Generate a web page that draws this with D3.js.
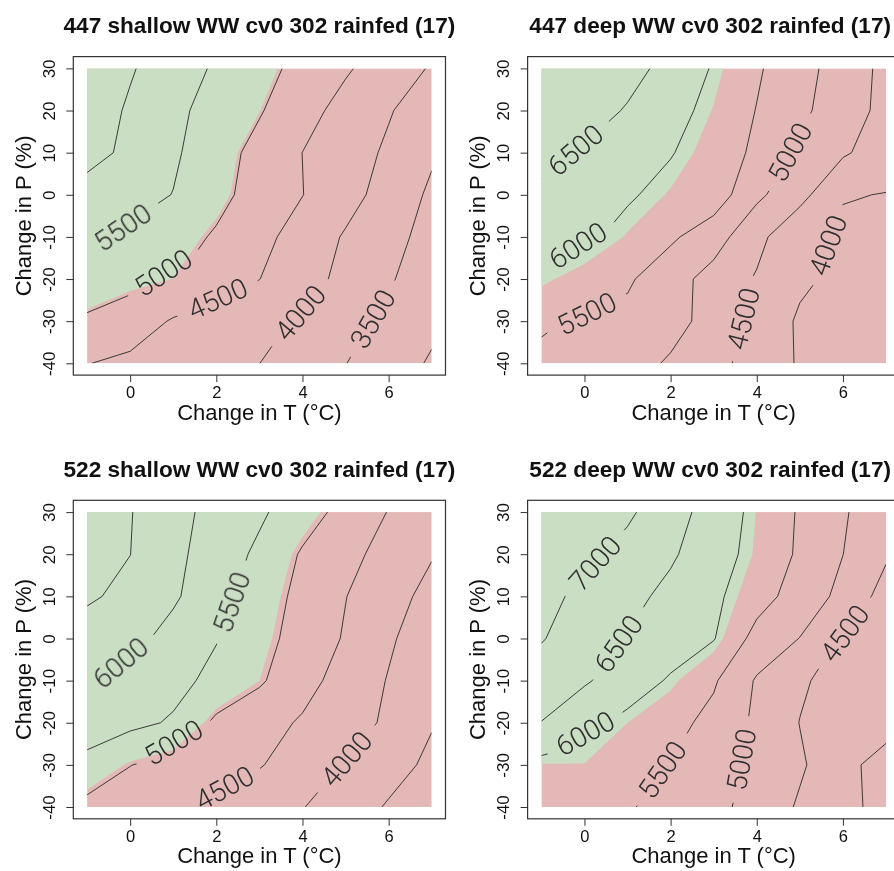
<!DOCTYPE html>
<html>
<head>
<meta charset="utf-8">
<script src="https://cdn.jsdelivr.net/npm/d3@7"></script>
<style>
  body { margin: 0; background: #ffffff; }
  svg { display: block; font-family: "Liberation Sans", Arial, sans-serif; }
</style>
</head>
<body>
<svg id="chart" width="894" height="871"></svg>
<script>
// ---------------- DATA ----------------
const tempChange = [-1, 0, 1, 2, 3, 4, 5, 6, 7];            // columns (°C)
const precipChange = [30, 20, 10, 0, -10, -20, -30, -40];    // rows (%)
const xTicks = [0, 2, 4, 6];
const yTicks = [-40, -30, -20, -10, 0, 10, 20, 30];
const contourLevels = [3000, 3500, 4000, 4500, 5000, 5500, 6000, 6500, 7000, 7500];

const panelTitles = [
  "447 shallow WW cv0 302 rainfed (17)",
  "447 deep WW cv0 302 rainfed (17)",
  "522 shallow WW cv0 302 rainfed (17)",
  "522 deep WW cv0 302 rainfed (17)"
];

// yield grids: rows follow precipChange, columns follow tempChange
const yield447Shallow = [
  [6348, 6043, 5738, 5438, 5155, 4862, 4555, 4256, 3958],
  [6263, 5938, 5614, 5318, 5039, 4674, 4337, 4036, 3736],
  [6188, 5880, 5571, 5211, 4846, 4497, 4223, 3927, 3560],
  [5790, 5680, 5489, 5135, 4812, 4509, 4179, 3803, 3420],
  [5610, 5402, 5183, 4950, 4640, 4302, 3953, 3663, 3330],
  [5289, 5128, 5026, 4766, 4506, 4190, 3873, 3554, 3210],
  [4927, 4786, 4450, 4298, 4132, 3944, 3667, 3380, 3100],
  [4514, 4386, 4258, 4130, 4003, 3755, 3510, 3218, 2950]
];
const yield447Deep = [
  [6950, 6880, 6688, 6326, 5960, 5560, 5176, 4780, 4375],
  [6870, 6739, 6455, 6170, 5853, 5485, 5106, 4733, 4363],
  [6643, 6439, 6234, 6029, 5731, 5420, 4913, 4563, 4250],
  [6408, 6286, 6059, 5840, 5780, 5100, 4660, 4030, 3985],
  [6200, 6105, 5843, 5581, 5210, 4642, 4100, 3900, 3860],
  [5930, 5740, 5567, 5194, 4824, 4456, 4091, 3870, 3820],
  [5580, 5420, 5370, 5202, 4789, 4368, 3930, 3880, 3830],
  [5370, 5290, 5226, 4932, 4638, 4316, 3950, 3900, 3850]
];
const yield522Shallow = [
  [6887, 6522, 6157, 5847, 5578, 5220, 4842, 4482, 4122],
  [6820, 6504, 6120, 5770, 5403, 4948, 4641, 4333, 4030],
  [6560, 6389, 6070, 5675, 5256, 4863, 4511, 4183, 3856],
  [6300, 6151, 5836, 5522, 5165, 4811, 4456, 4060, 3740],
  [6075, 5855, 5636, 5379, 5061, 4680, 4297, 3975, 3650],
  [5754, 5620, 5450, 4900, 4689, 4446, 4188, 3930, 3530],
  [5359, 5010, 4848, 4690, 4532, 4263, 3969, 3685, 3400],
  [4855, 4745, 4564, 4382, 4200, 4018, 3743, 3455, 3166]
];
const yield522Deep = [
  [7470, 7400, 7080, 6700, 6296, 5867, 5452, 5056, 4656],
  [7400, 7123, 6844, 6564, 6217, 5836, 5432, 5004, 4560],
  [7137, 6888, 6639, 6377, 6098, 5699, 5287, 4871, 4310],
  [7030, 6749, 6475, 6250, 6025, 5330, 4990, 4438, 4250],
  [6771, 6554, 6256, 5946, 5558, 4950, 4569, 4300, 4280],
  [6490, 6150, 5874, 5654, 5361, 4907, 4490, 4280, 4227],
  [5860, 5865, 5776, 5489, 5201, 4899, 4564, 4171, 3764],
  [5780, 5750, 5542, 5333, 5125, 4833, 4440, 4139, 3840]
];

// yield separating the green (above) and red (below) areas
const fillThresholds = [5030, 5870, 5060, 5875];

// contour labels: [level, T, P] (approximate label centre)
const labels447Shallow = [[5500, -0.16, -8.4], [5000, 0.85, -18.3], [4500, 2.02, -24.6], [4000, 3.95, -28.1], [3500, 5.64, -29.5]];
const labels447Deep = [[6500, -0.18, 10.2], [6000, -0.14, -11.9], [5500, -0.02, -26.6], [5000, 4.78, 10.1], [4500, 3.64, -29.3], [4000, 5.58, -11.5]];
const labels522Shallow = [[6000, -0.19, -6.3], [5500, 2.33, 8.7], [5000, 0.93, -24.5], [4500, 2.09, -35.3], [4000, 5.04, -28.8]];
const labels522Deep = [[7000, 0.25, 17.8], [6500, 0.79, -1.2], [6000, -0.06, -22.5], [5500, 1.87, -31.6], [5000, 3.68, -28.8], [4500, 6.04, 1.2]];

const panels = [
  { title: panelTitles[0], grid: yield447Shallow, threshold: fillThresholds[0], labels: labels447Shallow },
  { title: panelTitles[1], grid: yield447Deep, threshold: fillThresholds[1], labels: labels447Deep },
  { title: panelTitles[2], grid: yield522Shallow, threshold: fillThresholds[2], labels: labels522Shallow },
  { title: panelTitles[3], grid: yield522Deep, threshold: fillThresholds[3], labels: labels522Deep }
];

// ---------------- STYLE / LAYOUT ----------------
const GREEN = "#c9dec3";
const RED = "#e3b8b7";
const LINE = "#2a2a2a";
const offsets = [[0, 0], [454.3, 0], [0, 443.7], [454.3, 443.7]];
const titleShift = [0, -3.5, 0, -3.5];
const x = d3.scaleLinear().domain([-1.32, 7.32]).range([73.3, 445.5]);
const y = d3.scaleLinear().domain([-42.8, 32.8]).range([375.1, 56.6]);

const svg = d3.select("#chart");
const defs = svg.append("defs");
defs.append("filter").attr("id", "thin").attr("x", "-20%").attr("y", "-20%").attr("width", "140%").attr("height", "140%")
  .append("feMorphology").attr("operator", "erode").attr("radius", 0.45);

// marching squares -> open/closed polylines in data coordinates
function isolines(grid, level) {
  const nr = grid.length, nc = grid[0].length;
  const pts = new Map(), adj = new Map();
  function pt(key, r1, c1, r2, c2) {
    if (!pts.has(key)) {
      const v1 = grid[r1][c1], v2 = grid[r2][c2];
      const t = (level - v1) / (v2 - v1);
      pts.set(key, [tempChange[c1] + t * (tempChange[c2] - tempChange[c1]),
                    precipChange[r1] + t * (precipChange[r2] - precipChange[r1])]);
    }
    return key;
  }
  function link(a, b) {
    if (!adj.has(a)) adj.set(a, []);
    if (!adj.has(b)) adj.set(b, []);
    adj.get(a).push(b); adj.get(b).push(a);
  }
  const hi = v => v >= level;
  for (let r = 0; r < nr - 1; r++) {
    for (let c = 0; c < nc - 1; c++) {
      const a = grid[r][c], b = grid[r][c + 1], d = grid[r + 1][c + 1], e = grid[r + 1][c];
      const cross = {};
      if (hi(a) !== hi(b)) cross.top = pt("h" + r + "," + c, r, c, r, c + 1);
      if (hi(b) !== hi(d)) cross.right = pt("v" + r + "," + (c + 1), r, c + 1, r + 1, c + 1);
      if (hi(e) !== hi(d)) cross.bottom = pt("h" + (r + 1) + "," + c, r + 1, c, r + 1, c + 1);
      if (hi(a) !== hi(e)) cross.left = pt("v" + r + "," + c, r, c, r + 1, c);
      const ks = Object.keys(cross);
      if (ks.length === 2) link(cross[ks[0]], cross[ks[1]]);
      else if (ks.length === 4) {
        const center = (a + b + d + e) / 4;
        if (hi(center) === hi(a)) { link(cross.top, cross.right); link(cross.bottom, cross.left); }
        else { link(cross.left, cross.top); link(cross.right, cross.bottom); }
      }
    }
  }
  const used = new Set(), lines = [];
  function walk(start) {
    const line = [start]; used.add(start);
    let cur = start;
    while (true) {
      const nb = (adj.get(cur) || []).filter(k => !used.has(k));
      if (!nb.length) break;
      cur = nb[0]; used.add(cur); line.push(cur);
    }
    return line;
  }
  for (const [k, v] of adj) if (v.length === 1 && !used.has(k)) lines.push(walk(k));
  for (const [k] of adj) if (!used.has(k)) { const l = walk(k); l.push(l[0]); lines.push(l); }
  return lines.map(l => l.map(k => pts.get(k)));
}

function cum(p) { const s = [0]; for (let i = 1; i < p.length; i++) s.push(s[i - 1] + Math.hypot(p[i][0] - p[i - 1][0], p[i][1] - p[i - 1][1])); return s; }
function pointAt(p, s, d) {
  if (d <= 0) return p[0];
  if (d >= s[s.length - 1]) return p[p.length - 1];
  let i = 0; while (s[i + 1] < d) i++;
  const t = (d - s[i]) / (s[i + 1] - s[i] || 1);
  return [p[i][0] + t * (p[i + 1][0] - p[i][0]), p[i][1] + t * (p[i + 1][1] - p[i][1])];
}
function slicePoly(p, s, d0, d1) {
  const out = [pointAt(p, s, d0)];
  for (let i = 0; i < p.length; i++) if (s[i] > d0 && s[i] < d1) out.push(p[i]);
  out.push(pointAt(p, s, d1));
  return out;
}

const lineGen = d3.line();
const fmt = d => String(d);

panels.forEach((p, pi) => {
  const g = svg.append("g").attr("transform", `translate(${offsets[pi][0]},${offsets[pi][1]})`);
  const clipId = "clip" + pi;
  g.append("clipPath").attr("id", clipId).append("rect")
    .attr("x", x(-1)).attr("y", y(30)).attr("width", x(7) - x(-1)).attr("height", y(-40) - y(30));
  const plot = g.append("g").attr("clip-path", `url(#${clipId})`);

  // red background (below threshold)
  plot.append("rect").attr("x", x(-1)).attr("y", y(30))
    .attr("width", x(7) - x(-1)).attr("height", y(-40) - y(30)).attr("fill", RED);

  // green area (at or above threshold)
  const nr = p.grid.length, nc = p.grid[0].length;
  const cont = d3.contours().size([nc, nr]).thresholds([p.threshold])(p.grid.flat())[0];
  const gxT = gx => tempChange[0] + (gx - 0.5) * (tempChange[1] - tempChange[0]);
  const gyP = gy => precipChange[0] + (gy - 0.5) * (precipChange[1] - precipChange[0]);
  let dstr = "";
  cont.coordinates.forEach(poly => poly.forEach(ring => {
    dstr += "M" + ring.map(([a, b]) => x(gxT(a)).toFixed(2) + "," + y(gyP(b)).toFixed(2)).join("L") + "Z";
  }));
  plot.append("path").attr("d", dstr).attr("fill", GREEN).attr("fill-rule", "evenodd");

  // contour lines with labels
  const lineG = plot.append("g");
  const labelG = g.append("g").attr("filter", "url(#thin)");
  contourLevels.forEach(level => {
    const polys = isolines(p.grid, level).map(l => l.map(([T, P]) => [x(T), y(P)]));
    const cuts = polys.map(() => []);
    const s = polys.map(cum);
    p.labels.filter(L => L[0] === level).forEach(L => {
      const ax = x(L[1]), ay = y(L[2]);
      let best = null;
      polys.forEach((pl, li) => {
        for (let i = 0; i < pl.length - 1; i++) {
          const [x1, y1] = pl[i], [x2, y2] = pl[i + 1];
          const dx = x2 - x1, dy = y2 - y1, len2 = dx * dx + dy * dy || 1;
          let t = ((ax - x1) * dx + (ay - y1) * dy) / len2; t = Math.max(0, Math.min(1, t));
          const px = x1 + t * dx, py = y1 + t * dy, dist = Math.hypot(ax - px, ay - py);
          if (!best || dist < best.dist) best = { dist, li, d: s[li][i] + t * Math.sqrt(len2) };
        }
      });
      if (!best) return;
      const txt = labelG.append("text").text(String(level))
        .attr("font-family", "Roboto, 'Liberation Sans', sans-serif")
        .attr("font-weight", 300).attr("font-size", 28).attr("fill", "#2e2e2e")
        .attr("text-anchor", "middle").attr("dy", "0.36em");
      const h = txt.node().getComputedTextLength() / 2 + 13;
      const pl = polys[best.li], sl = s[best.li];
      const A = pointAt(pl, sl, best.d - h), B = pointAt(pl, sl, best.d + h);
      let ang = Math.atan2(B[1] - A[1], B[0] - A[0]) * 180 / Math.PI;
      if (ang >= 90) ang -= 180;
      if (ang < -90) ang += 180;
      const cx = (A[0] + B[0]) / 2, cy = (A[1] + B[1]) / 2;
      txt.attr("transform", `translate(${cx},${cy}) rotate(${ang})`);
      cuts[best.li].push([best.d - h, best.d + h]);
    });
    polys.forEach((pl, li) => {
      const total = s[li][s[li].length - 1];
      const cs = cuts[li].sort((a, b) => a[0] - b[0]);
      let start = 0;
      const pieces = [];
      cs.forEach(([c0, c1]) => { if (c0 > start) pieces.push([start, c0]); start = Math.max(start, c1); });
      if (start < total) pieces.push([start, total]);
      pieces.forEach(([d0, d1]) => {
        lineG.append("path").attr("d", lineGen(slicePoly(pl, s[li], d0, d1)))
          .attr("fill", "none").attr("stroke", LINE).attr("stroke-width", 0.9);
      });
    });
  });

  // frame
  g.append("rect").attr("x", x.range()[0]).attr("y", y.range()[1])
    .attr("width", x.range()[1] - x.range()[0]).attr("height", y.range()[0] - y.range()[1])
    .attr("fill", "none").attr("stroke", "#333").attr("stroke-width", 1.2);

  // axes
  const xa = g.append("g").attr("transform", `translate(0,${y.range()[0]})`)
    .call(d3.axisBottom(x).tickValues(xTicks).tickSize(7).tickPadding(4).tickFormat(fmt));
  xa.select(".domain").remove();
  xa.attr("font-size", 16.5).attr("font-family", null).attr("color", "#333");
  xa.selectAll("text").attr("fill", "#111");

  const ya = g.append("g").attr("transform", `translate(${x.range()[0]},0)`)
    .call(d3.axisLeft(y).tickValues(yTicks).tickSize(7).tickFormat(fmt));
  ya.select(".domain").remove();
  ya.attr("font-size", 17).attr("font-family", null).attr("color", "#333");
  ya.selectAll("text").attr("fill", "#111").attr("transform", "rotate(-90)")
    .attr("x", 0).attr("y", -18.3).attr("dy", 0).attr("text-anchor", "middle");

  const cxm = (x.range()[0] + x.range()[1]) / 2;
  const cym = (y.range()[0] + y.range()[1]) / 2;
  g.append("text").attr("x", cxm + titleShift[pi]).attr("y", 33).attr("text-anchor", "middle")
    .attr("font-weight", "bold").attr("font-size", 22.6).attr("fill", "#111").text(p.title);
  g.append("text").attr("x", cxm).attr("y", 419.5).attr("text-anchor", "middle")
    .attr("font-size", 22).attr("fill", "#111").text("Change in T (°C)");
  g.append("text").attr("transform", `translate(31,${cym}) rotate(-90)`).attr("text-anchor", "middle")
    .attr("font-size", 22).attr("fill", "#111").text("Change in P (%)");
});
</script>
</body>
</html>
